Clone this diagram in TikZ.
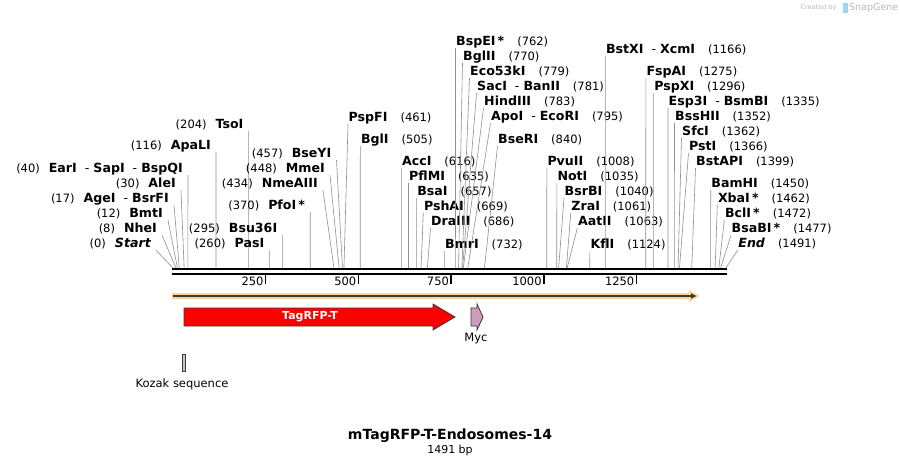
\documentclass[tikz,border=0pt]{standalone}
\usepackage{fontspec}
\setmainfont{DejaVu Sans}
\usetikzlibrary{arrows.meta}
\definecolor{CutGrey}{HTML}{8F8F8F}
\definecolor{OrfGold}{HTML}{FCD590}
\definecolor{OrfDark}{HTML}{3A3A3A}
\definecolor{RfpRed}{HTML}{FF0000}
\definecolor{MycPink}{HTML}{CC9DB8}
\definecolor{KozakGrey}{HTML}{C8C8C8}
\definecolor{LogoGrey}{HTML}{B9B9B9}
\definecolor{LogoBlue}{HTML}{9FD3F5}
\newcommand{\enzname}[1]{{\fontsize{12.6}{14}\selectfont\bfseries #1}}
\newcommand{\cutsep}{{\mdseries\ \ -\ }}
\tikzset{
  site/.style={font=\fontsize{11.5}{13}\selectfont, inner ysep=0pt, text height=9pt, text depth=3pt},
  rlabel/.style={site, anchor=west, inner xsep=0.5pt},
  llabel/.style={site, anchor=east, inner xsep=5pt},
  cut/.style={draw=CutGrey, line width=0.6pt},
  feat/.style={draw=OrfDark, line width=0.8pt}
}

\begin{document}
\begin{tikzpicture}[x=1pt,y=-1pt,>=Latex]
  \useasboundingbox (0,0) rectangle (900,466);
  % sequence and ruler
  \draw[line width=2pt] (172,269) -- (727,269);
  \draw[line width=2pt] (172,273.5) -- (727,273.5);
  \foreach \t in {250,500,750,1000,1250} {
    \draw[line width=1.5pt] ({173+0.3708*\t},274) -- ({173+0.3708*\t},284);
    \node[site,anchor=east,inner xsep=2pt] (t\t) at ({173+0.3708*\t},282) {\t};
  }
  % sites labelled on the left
  \foreach \nm/\txt/\bp/\lx/\ly in {
      Start/{\itshape Start}/0/156/244,
      NheI/NheI/8/162/229,
      BmtI/BmtI/12/168/214,
      AgeI/{AgeI\cutsep BsrFI}/17/174/199,
      AleI/AleI/30/181/184,
      EarI/{EarI\cutsep SapI\cutsep BspQI}/40/188/169,
      ApaLI/ApaLI/116/216/146,
      TsoI/TsoI/204/248.6/125,
      PasI/PasI/260/269.4/244,
      Bsu36I/Bsu36I/295/282.4/229,
      PfoI/{PfoI\,*}/370/310.2/206,
      NmeAIII/NmeAIII/434/323/184,
      MmeI/MmeI/448/330/169,
      BseYI/BseYI/457/336.5/154} {
    \coordinate (c\nm) at ({173+0.3708*\bp},268);
    \node[llabel] (\nm) at (\lx,\ly) {(\bp)\hspace{9pt}\enzname{\txt}};
    \draw[cut] (\nm.south east) -- (c\nm);
  }
  % sites labelled on the right
  \foreach \nm/\txt/\bp/\lx/\ly in {
      PspFI/PspFI/461/348/118,
      BglI/BglI/505/360.3/140,
      AccI/AccI/616/401.4/162,
      PflMI/PflMI/635/408.5/177,
      BsaI/BsaI/657/416.6/192,
      PshAI/PshAI/669/423.3/207,
      DraIII/DraIII/686/430.5/222,
      BmrI/BmrI/732/444.4/245,
      BspEI/{BspEI\,*}/762/455.5/42,
      BglII/BglII/770/462.5/57,
      Eco53kI/Eco53kI/779/469.5/72,
      SacI/{SacI\cutsep BanII}/781/476.5/87,
      HindIII/HindIII/783/483.5/102,
      ApoI/{ApoI\cutsep EcoRI}/795/490.5/117,
      BseRI/BseRI/840/497.5/140,
      PvuII/PvuII/1008/546.8/162,
      NotI/NotI/1035/556.8/177,
      BsrBI/BsrBI/1040/564/192,
      ZraI/ZraI/1061/570.7/207,
      AatII/AatII/1063/577.3/222,
      KflI/KflI/1124/589.8/245,
      BstXI/{BstXI\cutsep XcmI}/1166/605.3/50,
      FspAI/FspAI/1275/645.8/72,
      PspXI/PspXI/1296/653.6/87,
      Esp3I/{Esp3I\cutsep BsmBI}/1335/668/102,
      BssHII/BssHII/1352/674.5/117,
      SfcI/SfcI/1362/681.5/132,
      PstI/PstI/1366/688.5/147,
      BstAPI/BstAPI/1399/695.5/162,
      BamHI/BamHI/1450/710.7/184,
      XbaI/{XbaI\,*}/1462/717.3/199,
      BclI/{BclI\,*}/1472/724.3/214,
      BsaBI/{BsaBI\,*}/1477/731/229,
      End/{\itshape End}/1491/737.7/244} {
    \coordinate (c\nm) at ({173+0.3708*\bp},268);
    \node[rlabel] (\nm) at (\lx,\ly) {\enzname{\txt}\hspace{13pt}(\bp)};
    \draw[cut] (\nm.south west) -- (c\nm);
  }
  % features
  \fill[OrfGold] (172,293) -- (689,293) -- (689,290) -- (699,296) -- (689,302) -- (689,299) -- (172,299) -- cycle;
  \draw[OrfDark, line width=1.3pt, -{Latex[length=6pt,width=6pt]}] (173,296) -- (697,296);
  \draw[feat, fill=RfpRed] (184,308) -- (433,308) -- (433,304) -- (455,317) -- (433,330) -- (433,326) -- (184,326) -- cycle;
  \node[font=\fontsize{11}{12}\selectfont\bfseries, text=white] (rfp) at (310,317) {TagRFP-T};
  \draw[feat, fill=MycPink] (471,308) -- (477,308) -- (477,304) -- (483,317) -- (477,330) -- (477,326) -- (471,326) -- cycle;
  \node[font=\fontsize{11.5}{13}\selectfont] (myc) at (476,338) {Myc};
  \draw[feat, fill=KozakGrey, line width=0.6pt] (182,354) rectangle (185.5,371);
  \node[font=\fontsize{11.5}{13}\selectfont] (kozak) at (182,384) {Kozak sequence};
  % title
  \node[font=\fontsize{14}{16}\selectfont\bfseries] (title) at (450,436) {mTagRFP-T-Endosomes-14};
  \node[font=\fontsize{11}{13}\selectfont] (size) at (450,450) {1491 bp};
  % logo
  \node[font=\fontsize{6.5}{8}\selectfont, text=LogoGrey, anchor=east] (made) at (840,8) {Created by};
  \fill[LogoBlue] (843,3) rectangle (847.5,13);
  \node[font=\fontsize{9.5}{11}\selectfont, text=LogoGrey, anchor=west, inner xsep=1pt] (snap) at (848,8) {SnapGene};
\end{tikzpicture}
\end{document}
